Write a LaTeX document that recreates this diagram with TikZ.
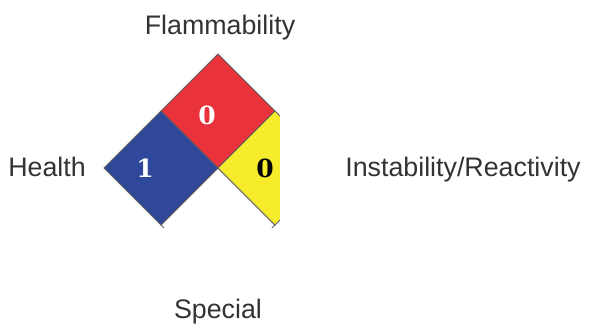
\documentclass[tikz,border=0pt]{standalone}
\usepackage{fontspec}
\setmainfont{Liberation Sans}
\newfontfamily\numfont{DejaVu Serif}
\usetikzlibrary{shapes.geometric}
\definecolor{flamred}{RGB}{234,50,60}
\definecolor{healthblue}{RGB}{47,72,156}
\definecolor{reactyellow}{RGB}{246,236,44}
\definecolor{labelgray}{RGB}{51,51,51}
\definecolor{edgegray}{RGB}{95,95,95}
\tikzset{
  hazard/.style={diamond, aspect=1, draw=edgegray, line width=0.4pt, inner sep=0pt, outer sep=0pt, minimum size=57pt},
  rating/.style={font=\numfont\bfseries\fontsize{12.5}{13}\selectfont, inner sep=0pt},
  caption/.style={text=labelgray, font=\fontsize{13.4}{16}\selectfont, anchor=base, inner sep=0pt}
}

\begin{document}
\begin{tikzpicture}[x=0.5pt,y=-0.5pt]
\useasboundingbox (0,0) rectangle (591,324);
% diamond, cut at right and bottom
\begin{scope}
\clip (100,50) rectangle (280,228);
\node[hazard, fill=white] (spec) at (218,225) {};
\node[hazard, fill=flamred] (flam) at (218,111) {};
\node[hazard, fill=healthblue] (health) at (161,168) {};
\node[hazard, fill=reactyellow] (react) at (275,168) {};
\end{scope}
\node[rating, text=white] (flamval) at (207,115) {0};
\node[rating, text=white] (healthval) at (145,168) {1};
\node[rating, text=black] (reactval) at (265,168) {0};
% captions
\node[caption] (flamtxt) at (220,35) {Flammability};
\node[caption] (healthtxt) at (47,177) {Health};
\node[caption] (reacttxt) at (463,177) {Instability/Reactivity};
\node[caption] (spectxt) at (218,319) {Special};
\end{tikzpicture}
\end{document}
